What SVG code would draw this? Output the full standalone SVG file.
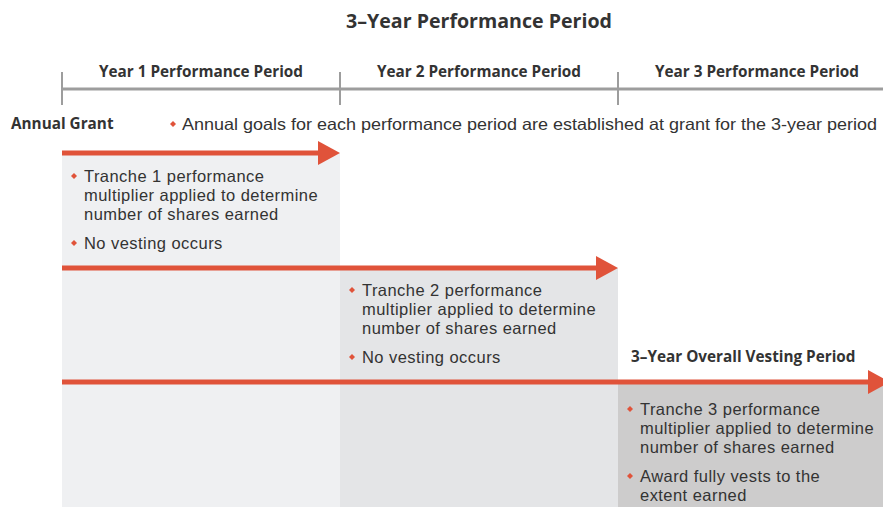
<svg xmlns="http://www.w3.org/2000/svg" width="883" height="507" viewBox="0 0 883 507">
<style>
text{font-family:"Open Sans","Liberation Sans",sans-serif;fill:#333;}
.b{font-weight:bold;}
.t{font-family:"Liberation Sans",Arial,sans-serif;font-size:16.5px;letter-spacing:0.45px;}
.h{font-size:15.3px;font-weight:bold;}
.axis{stroke:#9d9d9d;stroke-width:3;fill:none;}
.tick{stroke:#9d9d9d;stroke-width:2;}
.arr{stroke:#e0533a;stroke-width:5;fill:none;}
.head{fill:#e0533a;}
.dot{fill:#e0533a;}
</style>
<defs>
<path id="d" d="M0,-3 L3,0 L0,3 L-3,0 Z"/>
</defs>
<g id="backgrounds">
<rect x="62" y="153" width="278" height="354" fill="#eff0f2"/>
<rect x="340" y="268" width="278" height="239" fill="#e4e5e7"/>
<rect x="618" y="382" width="265" height="125" fill="#cdcccc"/>
</g>
<g id="title"><text x="479" y="28" text-anchor="middle" class="b" style="font-size:19.6px">3–Year Performance Period</text></g>
<g id="timeline">
<line class="axis" x1="62" y1="89" x2="883" y2="89"/>
<line class="tick" x1="62" y1="72" x2="62" y2="105"/>
<line class="tick" x1="340" y1="72" x2="340" y2="105"/>
<line class="tick" x1="618" y1="72" x2="618" y2="105"/>
<text x="201" y="77" text-anchor="middle" class="h">Year 1 Performance Period</text>
<text x="479" y="77" text-anchor="middle" class="h">Year 2 Performance Period</text>
<text x="757" y="77" text-anchor="middle" class="h">Year 3 Performance Period</text>
</g>
<g id="grant">
<text x="11" y="129" class="h">Annual Grant</text>
<use href="#d" x="173" y="124" class="dot"/>
<text x="182" y="130" class="t" style="letter-spacing:0" textLength="695" lengthAdjust="spacingAndGlyphs">Annual goals for each performance period are established at grant for the 3-year period</text>
</g>
<g id="connectors">
<line class="arr" x1="62" y1="153" x2="320" y2="153"/>
<polygon class="head" points="318,141 340,153 318,165"/>
<line class="arr" x1="62" y1="268" x2="598" y2="268"/>
<polygon class="head" points="596,256 618,268 596,280"/>
<line class="arr" x1="62" y1="382" x2="870" y2="382"/>
<polygon class="head" points="868,370 890,382 868,394"/>
</g>
<g id="tranche1">
<use href="#d" x="74" y="176" class="dot"/>
<text x="84" y="182" class="t"><tspan x="84">Tranche 1 performance</tspan><tspan x="84" dy="19">multiplier applied to determine</tspan><tspan x="84" dy="19">number of shares earned</tspan></text>
<use href="#d" x="74" y="243" class="dot"/>
<text x="84" y="249" class="t">No vesting occurs</text>
</g>
<g id="tranche2">
<use href="#d" x="352" y="290" class="dot"/>
<text x="362" y="296" class="t"><tspan x="362">Tranche 2 performance</tspan><tspan x="362" dy="19">multiplier applied to determine</tspan><tspan x="362" dy="19">number of shares earned</tspan></text>
<use href="#d" x="352" y="357" class="dot"/>
<text x="362" y="363" class="t">No vesting occurs</text>
</g>
<g id="tranche3">
<text x="631" y="362" class="h">3–Year Overall Vesting Period</text>
<use href="#d" x="630" y="409" class="dot"/>
<text x="640" y="415" class="t"><tspan x="640">Tranche 3 performance</tspan><tspan x="640" dy="19">multiplier applied to determine</tspan><tspan x="640" dy="19">number of shares earned</tspan></text>
<use href="#d" x="630" y="476" class="dot"/>
<text x="640" y="482" class="t"><tspan x="640">Award fully vests to the</tspan><tspan x="640" dy="19">extent earned</tspan></text>
</g>
</svg>
